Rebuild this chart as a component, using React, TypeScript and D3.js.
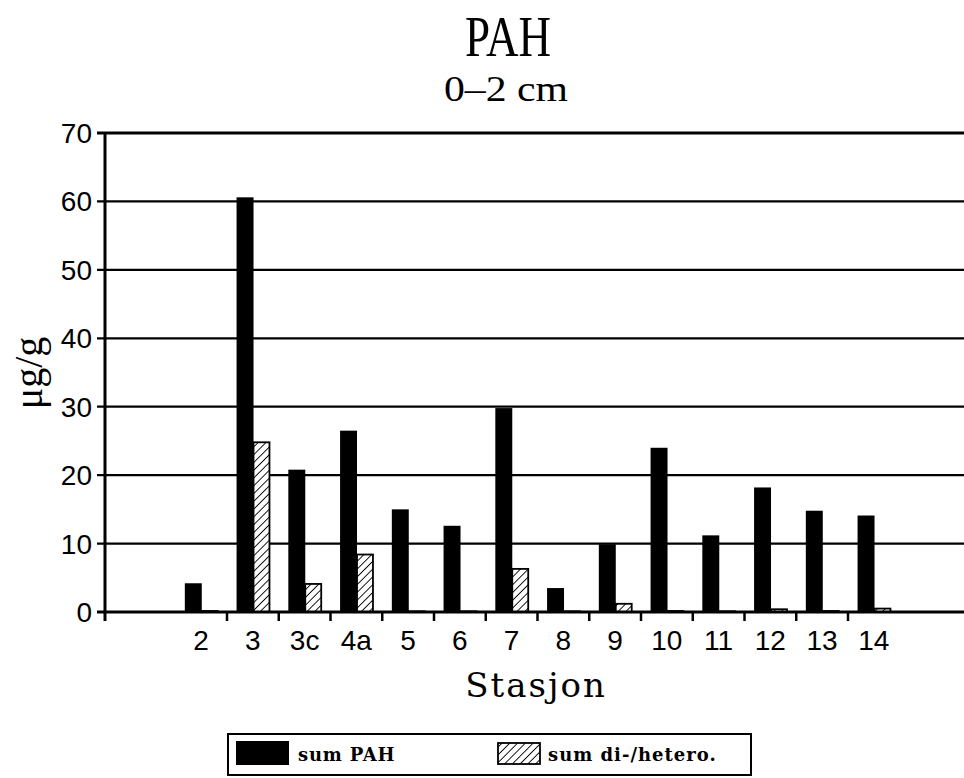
import React from "react";
import * as d3 from "d3";

const categories = ["2", "3", "3c", "4a", "5", "6", "7", "8", "9", "10", "11", "12", "13", "14"];
const sumPAH = [4.2, 60.6, 20.8, 26.5, 15.0, 12.6, 29.8, 3.5, 9.9, 24.0, 11.2, 18.2, 14.8, 14.1];
const sumHetero = [0.15, 24.8, 4.1, 8.4, 0.1, 0.1, 6.3, 0.1, 1.2, 0.15, 0.1, 0.4, 0.15, 0.5];
const yTicks = [0, 10, 20, 30, 40, 50, 60, 70];
const seriesNames = ["sum PAH", "sum di-/hetero."];

const W = 964;
const H = 778;
const axisLeft = 105;
const plotRight = 964;
const yZero = 612;
const yTop = 133;

export default function App() {
  const x = d3.scaleBand<string>().domain(categories).range([175.25, 899.75]).paddingInner(0).paddingOuter(0);
  const bw = x.bandwidth();
  const inner = d3.scaleBand<string>().domain(["pah", "het"]).range([bw * 0.185, bw * 0.84]);
  const y = d3.scaleLinear().domain([0, 70]).range([yZero, yTop]);

  const tickFont = "'Liberation Sans Narrow', 'Liberation Sans', Arial, sans-serif";
  const serif = "'Liberation Serif', 'Times New Roman', serif";

  return (
    <svg width={W} height={H} viewBox={`0 0 ${W} ${H}`} style={{ position: "absolute", left: 0, top: 0, background: "#fff" }}>
      <defs>
        <pattern id="hatch" patternUnits="userSpaceOnUse" width={5.5} height={5.5} patternTransform="rotate(45)">
          <rect width={5.5} height={5.5} fill="#fff" />
          <line x1={0} y1={0} x2={0} y2={5.5} stroke="#000" strokeWidth={1.8} />
        </pattern>
      </defs>
      <rect width={W} height={H} fill="#fff" />

      {/* Titles */}
      <text x={508} y={56} textAnchor="middle" fontFamily={serif} fontSize={58} textLength={86} lengthAdjust="spacingAndGlyphs">PAH</text>
      <text x={506} y={101} textAnchor="middle" fontFamily={serif} fontSize={36} textLength={124} lengthAdjust="spacingAndGlyphs">0–2 cm</text>

      {/* Gridlines */}
      {yTicks.filter((t) => t > 0).map((t) => (
        <line key={t} x1={97} x2={plotRight} y1={y(t)} y2={y(t)} stroke="#000" strokeWidth={t === 70 ? 3 : 2.2} />
      ))}

      {/* Y tick labels */}
      {yTicks.map((t) => (
        <text key={t} x={92} y={y(t) + 10} textAnchor="end" fontFamily={tickFont} fontSize={28} fill="#000">{t}</text>
      ))}

      {/* Bars */}
      {categories.map((c, i) => (
        <g key={c}>
          <rect x={(x(c) as number) + (inner("pah") as number)} width={inner.bandwidth()} y={y(sumPAH[i])} height={yZero - y(sumPAH[i])} fill="#000" />
          <rect x={(x(c) as number) + (inner("het") as number)} width={inner.bandwidth() - 1} y={y(sumHetero[i])} height={yZero - y(sumHetero[i])} fill="url(#hatch)" stroke="#000" strokeWidth={1.8} />
        </g>
      ))}

      {/* Axes */}
      <line x1={97} x2={plotRight} y1={yZero} y2={yZero} stroke="#000" strokeWidth={3} />
      <line x1={axisLeft} x2={axisLeft} y1={yTop - 1} y2={yZero + 9} stroke="#000" strokeWidth={3} />
      {categories.slice(1).map((c) => (
        <line key={c} x1={x(c) as number} x2={x(c) as number} y1={yZero} y2={yZero + 9} stroke="#000" strokeWidth={2.5} />
      ))}

      {/* X labels */}
      {categories.map((c) => (
        <text key={c} x={(x(c) as number) + bw / 2} y={650} textAnchor="middle" fontFamily={tickFont} fontSize={28} fill="#000">{c}</text>
      ))}

      {/* Axis titles */}
      <text x={536} y={697} textAnchor="middle" fontFamily="'DejaVu Serif', serif" fontSize={34} letterSpacing={2} fill="#000">Stasjon</text>
      <text transform={`translate(42, 373) rotate(-90)`} textAnchor="middle" fontFamily={serif} fontSize={40} fill="#000">μg/g</text>

      {/* Legend */}
      <rect x={228} y={734} width={523} height={41} fill="#fff" stroke="#000" strokeWidth={2} />
      <rect x={236} y={741} width={53} height={24} fill="#000" />
      <text x={298} y={761} fontFamily="'DejaVu Serif', serif" fontWeight="bold" fontSize={18} letterSpacing={0.8} fill="#000">{seriesNames[0]}</text>
      <rect x={498} y={743} width={42} height={21} fill="url(#hatch)" stroke="#000" strokeWidth={1.8} />
      <text x={548} y={761} fontFamily="'DejaVu Serif', serif" fontWeight="bold" fontSize={18} letterSpacing={1} fill="#000">{seriesNames[1]}</text>
    </svg>
  );
}
